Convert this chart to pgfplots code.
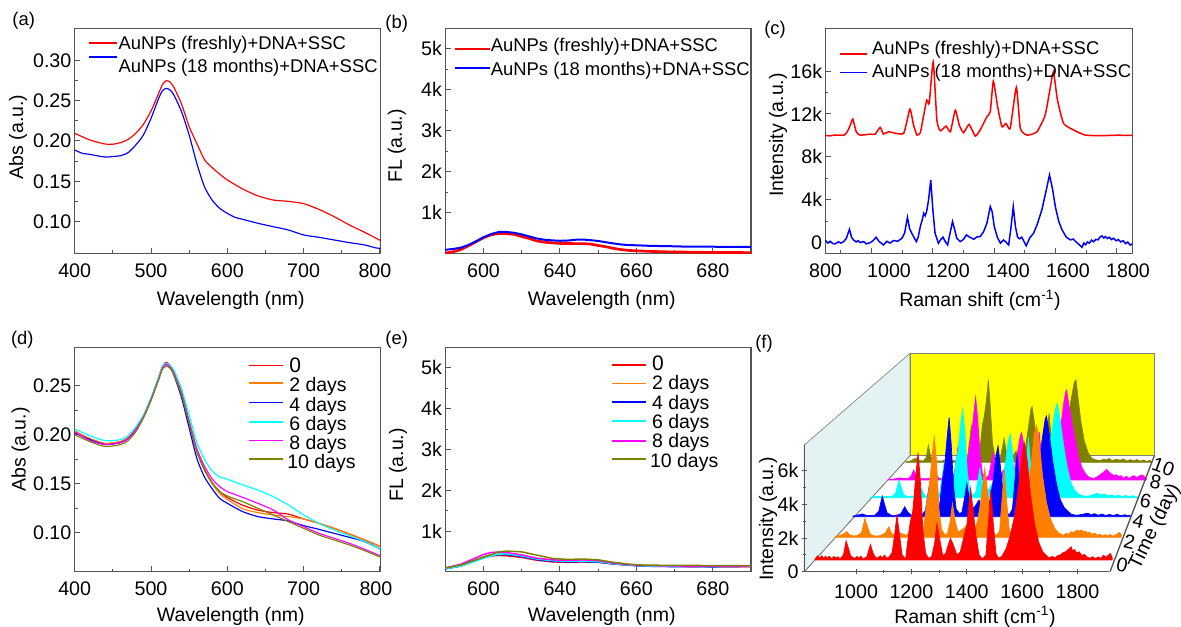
\documentclass[border=0pt]{standalone}
\usepackage{fontspec}
\setmainfont{Liberation Sans}
\usepackage{pgfplots}
\pgfplotsset{compat=1.18}
\definecolor{frame}{gray}{0.33}
\definecolor{myorange}{RGB}{255,128,0}
\definecolor{myolive}{RGB}{128,128,0}
\definecolor{mycyan}{RGB}{0,255,255}
\definecolor{mymagenta}{RGB}{255,0,255}
\definecolor{myyellow}{RGB}{255,255,0}
\definecolor{wall}{RGB}{227,243,243}
\newcommand\tk{\fontsize{11.8}{13}\selectfont}
\newcommand\lab{\fontsize{11.7}{13}\selectfont}
\newcommand\lega{\fontsize{11.05}{13}\selectfont}
\newcommand\legb{\fontsize{11.7}{13}\selectfont}
\newcommand\legz{\fontsize{12.6}{13}\selectfont}
\pgfplotsset{
 panel/.style n args={4}{at={({#1*0.6pt},{(627-#2)*0.6pt})},anchor=south west,width={#3*0.6pt},height={#4*0.6pt},scale only axis},
 common/.style={tick align=inside,tick pos=left,axis line style={color=frame,line width=0.8pt},
  major tick length=3.2pt,minor tick length=1.7pt,every tick/.style={frame,line width=0.6pt},
  tick label style={font=\tk},
  xticklabel style={inner sep=0pt,yshift=-6pt},yticklabel style={inner sep=0pt,xshift=-1.8pt},
  scaled ticks=false},
 xl/.style 2 args={every axis x label/.style={at={(axis description cs:#1,#2)},anchor=center,font=\lab}},
 yl/.style 2 args={every axis y label/.style={at={(axis description cs:#1,#2)},anchor=center,rotate=90,font=\lab}},
 leg/.style n args={4}{legend style={at={(axis description cs:#1,#2)},anchor=north west,draw=none,fill=none,inner sep=0pt,outer sep=0pt,
   font=#4,legend cell align=left,row sep=#3,
   nodes={inner sep=0pt,outer sep=0pt,text height=8pt,text depth=2.5pt}}},
 key/.style 2 args={legend image code/.code={\draw[##1,line width=1pt] (0pt,#2) -- (#1,#2);}},
 ln/.style={line width=0.7pt,no marks},
 ser/.style n args={4}{panel={#1}{#2}{#3}{#4},hide axis,xmin=813,xmax=1914,ymin=0,ymax=8000,clip=false},
}
\begin{document}
\begin{tikzpicture}
\path[use as bounding box] (0,0) rectangle (708.6pt,376.2pt);

% ---------- (a)
\begin{axis}[panel={74.7}{253.3}{306}{225},common,xmin=400,xmax=801,ymin=0.0608,ymax=0.3397,
 xtick={400,500,600,700,800},xticklabels={400,500,600,700,\kern-6pt 800},minor x tick num=1,
 ytick={0.10,0.15,0.20,0.25,0.30},yticklabels={0.10,0.15,0.20,0.25,0.30},minor y tick num=1,
 xlabel={Wavelength (nm)},ylabel={Abs (a.u.)},xl={0.51}{-0.2076},yl={-0.1853}{0.5169},
 leg={0.0435}{0.965}{1.6pt}{\lega},
 /tikz/every odd column/.append style={column sep=0.4pt}]
\addplot[ln,red,smooth,tension=0.4,key={17pt}{1.1pt}] coordinates {(400,.2095)(420,.2012)(440,.1962)(450,.196)(460,.198)(470,.202)(480,.2095)(490,.2206)(500,.2372)(510,.259)(515,.270)(520,.2748)(525,.273)(530,.2665)(540,.2458)(550,.2178)(560,.197)(570,.177)(580,.167)(590,.159)(600,.1517)(620,.1405)(640,.132)(660,.1268)(680,.1252)(700,.1223)(720,.1153)(740,.1062)(760,.0959)(780,.0868)(801,.0765)};
\addlegendentry{AuNPs (freshly)+DNA+SSC}
\addplot[ln,blue,smooth,tension=0.4,key={17pt}{6.3pt}] coordinates {(400,.1888)(410,.1847)(420,.1834)(440,.1801)(460,.1818)(470,.1855)(480,.195)(490,.2074)(500,.228)(510,.2528)(515,.2623)(520,.2652)(525,.2632)(530,.257)(540,.2363)(550,.2074)(560,.1723)(570,.1434)(580,.1268)(590,.1165)(600,.1103)(610,.1054)(620,.1029)(640,.098)(660,.0938)(680,.0897)(700,.0835)(720,.0806)(740,.0773)(760,.074)(780,.0711)(795,.0674)(801,.067)};
\addlegendentry{AuNPs (18 months)+DNA+SSC}
\end{axis}

% ---------- (b)
\begin{axis}[panel={445.3}{253.3}{305.7}{225},common,xmin=590,xmax=670,ymin=10,ymax=5500,
 xtick={600,620,640,660},xticklabels={600,640,660,680},minor x tick num=1,
 ytick={1000,2000,3000,4000,5000},yticklabels={1k,2k,3k,4k,5k},minor y tick num=1,
 xlabel={Wavelength (nm)},ylabel={FL (a.u.)},xl={0.5116}{-0.2076},yl={-0.159}{0.4769},
 leg={0.029}{0.9567}{3.9pt}{\lega},
 /tikz/every odd column/.append style={column sep=0pt}]
\addplot[no marks,red,line width=1.6pt,key={21pt}{-1.3pt}] coordinates {(590,15)(592,45)(594,100)(596,190)(598,290)(600,390)(602,460)(604,495)(606,490)(608,470)(610,420)(612,370)(614,310)(616,280)(618,265)(620,250)(622,250)(624,245)(626,245)(628,235)(630,200)(632,170)(634,130)(636,100)(638,80)(640,70)(644,55)(648,45)(652,40)(656,35)(660,30)(665,30)(670,25)};
\addlegendentry{AuNPs (freshly)+DNA+SSC}
\addplot[no marks,blue,line width=1.2pt,key={21pt}{1.5pt}] coordinates {(590,95)(592,115)(594,145)(596,210)(598,300)(600,400)(602,480)(604,530)(606,530)(608,510)(610,470)(612,420)(614,370)(616,340)(618,325)(620,315)(622,320)(624,340)(626,345)(628,330)(630,310)(632,280)(634,250)(636,225)(638,210)(640,205)(644,190)(648,185)(652,175)(656,170)(660,170)(665,165)(670,165)};
\addlegendentry{AuNPs (18 months)+DNA+SSC}
\end{axis}

% ---------- (c)
\begin{axis}[panel={825.5}{253.3}{306.8}{225},common,xmin=800,xmax=1800,ymin=-1000,ymax=20000,
 xtick={950,1150,1350,1550,1750},xticklabels={},minor xtick={850,1050,1250,1450,1650},
 extra x ticks={800,1007,1199,1395,1590,1786},extra x tick labels={800,1000,1200,1400,1600,1800},
 extra x tick style={major tick length=0pt},
 ytick={0,4000,8000,12000,16000},yticklabels={0,4k,8k,12k,16k},minor y tick num=1,
 xlabel={Raman shift (cm\textsuperscript{-1})},ylabel={Intensity (a.u.)},xl={0.5036}{-0.2076},yl={-0.1548}{0.5258},
 leg={0.0455}{0.9442}{3.7pt}{\lega},
 /tikz/every odd column/.append style={column sep=2.6pt}]
\addplot[ln,red,line width=0.9pt,smooth,tension=0.3,key={16pt}{-2.5pt}] coordinates {(800,10000)(815,9960)(830,10040)(860,10020)(870,10300)(880,10900)(889,11525)(900,10340)(913,10030)(946,10120)(962,10120)(978,10750)(989,10120)(1005,10340)(1054,10180)(1075,12460)(1087,10960)(1098,10030)(1109,10250)(1117,11430)(1130,13300)(1138,13000)(1151,16870)(1163,11430)(1174,10430)(1193,10870)(1207,10340)(1223,12360)(1236,10960)(1250,10250)(1268,11030)(1288,9940)(1304,10500)(1326,11740)(1337,12210)(1347,15070)(1361,12680)(1375,10810)(1388,11120)(1402,10650)(1422,14480)(1435,10650)(1457,10030)(1489,10340)(1516,11900)(1533,14540)(1543,15940)(1556,13300)(1576,11120)(1609,10500)(1647,10030)(1700,9980)(1750,10020)(1800,10000)};
\addlegendentry{AuNPs (freshly)+DNA+SSC}
\addplot[ln,blue,line width=0.9pt,key={16pt}{0.5pt}] coordinates {(800,190)(808,-50)(815,120)(824,-100)(832,-120)(842,80)(850,-60)(859,90)(868,400)(878,1240)(885,500)(891,250)(900,60)(906,180)(913,0)(924,90)(933,-120)(946,0)(955,180)(965,500)(974,120)(982,-60)(989,-220)(1000,120)(1010,-50)(1022,190)(1035,120)(1049,400)(1058,900)(1067,2360)(1074,1300)(1081,870)(1096,90)(1102,500)(1109,1500)(1115,2100)(1120,2740)(1125,2500)(1130,2980)(1136,4000)(1143,5840)(1150,3000)(1157,870)(1168,-60)(1176,300)(1183,500)(1190,100)(1198,-220)(1206,900)(1214,1960)(1221,1200)(1228,400)(1239,90)(1250,300)(1259,710)(1270,500)(1283,310)(1293,520)(1304,560)(1315,1000)(1326,1800)(1337,3360)(1343,2900)(1350,1500)(1360,500)(1370,-60)(1380,250)(1388,50)(1397,-220)(1404,1300)(1412,3360)(1419,1500)(1426,500)(1433,350)(1440,500)(1447,100)(1454,-310)(1466,450)(1478,870)(1490,1700)(1505,3040)(1518,4700)(1530,6310)(1540,5000)(1549,3360)(1560,2000)(1571,1180)(1585,500)(1598,250)(1607,330)(1615,100)(1625,-150)(1636,-440)(1642,-50)(1648,-200)(1654,60)(1660,-60)(1667,230)(1674,80)(1681,300)(1688,250)(1695,520)(1701,620)(1707,420)(1712,560)(1719,380)(1725,500)(1732,280)(1739,400)(1747,170)(1755,280)(1762,60)(1770,170)(1778,-100)(1785,50)(1793,-240)(1800,-120)};
\addlegendentry{AuNPs (18 months)+DNA+SSC}
\end{axis}

% ---------- (d)
\begin{axis}[panel={74.7}{571.7}{306}{224},common,xmin=400,xmax=801,ymin=0.0601,ymax=0.289,
 xtick={400,500,600,700,800},xticklabels={400,500,600,700,\kern-4.8pt 800},minor x tick num=1,
 ytick={0.10,0.15,0.20,0.25},yticklabels={0.10,0.15,0.20,0.25},minor y tick num=1,
 xlabel={Wavelength (nm)},ylabel={Abs (a.u.)},xl={0.51}{-0.2009},yl={-0.1765}{0.5455},
 leg={0.5673}{0.948}{1pt}{\legb},
 /tikz/every odd column/.append style={column sep=3.2pt}]
\addplot[ln,red,smooth,tension=0.4,key={20.4pt}{1.5pt}] coordinates {(400,.203)(420,.196)(440,.191)(460,.193)(470,.197)(480,.206)(490,.219)(500,.237)(510,.258)(515,.270)(520,.274)(525,.271)(530,.263)(540,.244)(550,.212)(560,.183)(570,.165)(580,.151)(590,.142)(600,.136)(620,.128)(640,.123)(660,.1205)(680,.119)(700,.114)(720,.1095)(740,.1044)(760,.0986)(780,.0925)(801,.0857)};
\addlegendentry{\legz 0}
\addplot[ln,myorange,smooth,tension=0.4,key={20.4pt}{2.5pt}] coordinates {(400,.204)(420,.196)(440,.191)(460,.193)(470,.197)(480,.206)(490,.219)(500,.237)(510,.258)(515,.269)(520,.272)(525,.269)(530,.262)(540,.242)(550,.212)(560,.183)(570,.164)(580,.150)(590,.140)(600,.134)(620,.1245)(640,.1205)(660,.118)(680,.1164)(700,.114)(720,.1095)(740,.1044)(760,.0986)(780,.0925)(801,.0855)};
\addlegendentry{2 days}
\addplot[ln,blue,smooth,tension=0.4,key={20.4pt}{2.3pt}] coordinates {(400,.202)(420,.195)(440,.190)(460,.192)(470,.196)(480,.205)(490,.218)(500,.236)(510,.258)(515,.269)(520,.273)(525,.270)(530,.261)(540,.238)(550,.207)(560,.176)(570,.157)(580,.145)(590,.135)(600,.130)(620,.1215)(640,.1164)(660,.114)(680,.112)(700,.1072)(720,.1034)(740,.0993)(760,.0952)(780,.0908)(801,.083)};
\addlegendentry{4 days}
\addplot[ln,mycyan,smooth,tension=0.4,key={20.4pt}{2.3pt}] coordinates {(400,.206)(420,.199)(440,.194)(460,.195)(470,.199)(480,.208)(490,.220)(500,.238)(510,.259)(515,.270)(520,.273)(525,.271)(530,.266)(540,.247)(550,.220)(560,.192)(570,.175)(580,.163)(590,.157)(600,.1546)(620,.1488)(640,.1436)(660,.1368)(680,.1283)(700,.1181)(720,.1095)(740,.1027)(760,.0969)(780,.0908)(801,.083)};
\addlegendentry{6 days}
\addplot[ln,mymagenta,smooth,tension=0.4,key={20.4pt}{2.5pt}] coordinates {(400,.203)(420,.194)(440,.190)(460,.192)(470,.196)(480,.205)(490,.218)(500,.236)(510,.257)(515,.268)(520,.272)(525,.269)(530,.263)(540,.242)(550,.214)(560,.186)(570,.168)(580,.155)(590,.147)(600,.142)(620,.1361)(640,.13)(660,.1232)(680,.113)(700,.1061)(720,.0993)(740,.0942)(760,.0891)(780,.083)(801,.0761)};
\addlegendentry{8 days}
\addplot[ln,myolive,smooth,tension=0.4,key={20.4pt}{3.1pt}] coordinates {(400,.200)(420,.193)(440,.188)(460,.190)(470,.194)(480,.203)(490,.217)(500,.235)(510,.256)(515,.267)(520,.270)(525,.268)(530,.261)(540,.241)(550,.212)(560,.183)(570,.164)(580,.151)(590,.142)(600,.1375)(620,.1317)(640,.1249)(660,.1181)(680,.1113)(700,.1044)(720,.0976)(740,.0925)(760,.0874)(780,.0816)(801,.0748)};
\addlegendentry{\hspace*{-1.2pt}10 days}
\end{axis}

% ---------- (e)
\begin{axis}[panel={445.3}{571.7}{305.7}{224},common,xmin=590,xmax=670,ymin=10,ymax=5490,
 xtick={600,620,640,660},xticklabels={600,640,660,680},minor x tick num=1,
 ytick={1000,2000,3000,4000,5000},yticklabels={1k,2k,3k,4k,5k},minor y tick num=1,
 xlabel={Wavelength (nm)},ylabel={FL (a.u.)},xl={0.5116}{-0.2009},yl={-0.1547}{0.4763},
 leg={0.541}{0.959}{1.14pt}{\legb},
 /tikz/every odd column/.append style={column sep=3.2pt}]
\addplot[no marks,red,line width=0.9pt,key={20.6pt}{0.3pt}] coordinates {(590,90)(594,150)(598,290)(600,350)(602,395)(604,410)(606,400)(610,360)(614,290)(618,250)(622,240)(626,250)(630,240)(634,200)(638,175)(642,150)(650,140)(660,130)(670,135)};
\addlegendentry{\legz 0}
\addplot[no marks,myorange,line width=0.9pt,key={20.6pt}{0.9pt}] coordinates {(590,95)(594,160)(598,300)(600,370)(602,420)(604,440)(606,435)(610,385)(614,310)(618,270)(622,260)(626,270)(630,255)(634,210)(638,180)(642,155)(650,145)(660,140)(670,140)};
\addlegendentry{2 days}
\addplot[no marks,blue,line width=0.9pt,key={20.6pt}{1.5pt}] coordinates {(590,80)(594,150)(598,290)(600,355)(602,405)(604,430)(606,430)(610,380)(614,305)(618,265)(622,250)(626,255)(630,245)(634,200)(638,170)(642,145)(650,135)(660,130)(670,140)};
\addlegendentry{4 days}
\addplot[no marks,mycyan,line width=0.9pt,key={20.6pt}{1.5pt}] coordinates {(590,85)(594,145)(598,270)(600,340)(602,400)(604,440)(606,445)(610,395)(614,320)(618,280)(622,265)(626,270)(630,255)(634,205)(638,175)(642,150)(650,140)(660,135)(670,145)};
\addlegendentry{6 days}
\addplot[no marks,mymagenta,line width=0.9pt,key={20.6pt}{1.5pt}] coordinates {(590,100)(594,190)(598,350)(600,430)(602,480)(604,490)(606,480)(610,420)(614,340)(618,300)(622,285)(626,300)(630,280)(634,220)(638,185)(642,160)(650,150)(660,145)(670,150)};
\addlegendentry{8 days}
\addplot[no marks,myolive,line width=0.9pt,key={20.6pt}{2.1pt}] coordinates {(590,105)(594,170)(598,300)(600,370)(602,430)(604,495)(606,515)(610,495)(614,415)(618,335)(622,310)(626,320)(630,300)(634,240)(638,195)(642,170)(650,165)(660,160)(670,160)};
\addlegendentry{\hspace*{-1.2pt}10 days}
\end{axis}

% ---------- (f) walls
\begin{scope}[x=0.6pt,y=0.6pt]
\fill[wall,draw=gray,line width=0.4pt] (804.3,55.3) -- (804.3,182) -- (910,273.7) -- (910,171.3) -- cycle;
\fill[myyellow,draw=gray,line width=0.4pt] (910,171.3) rectangle (1154.3,273.7);
\draw[gray,line width=0.4pt] (804.3,55.3) -- (910,171.3);
\end{scope}

\begin{axis}[ser={905.7}{462.3}{246.6}{108.8}]
\addplot[fill=myolive,draw=myolive,line width=0.4pt] coordinates {(813,30)(835,100)(850,250)(865,300)(875,120)(890,100)(905,350)(914,1270)(923,500)(935,120)(955,100)(975,100)(995,200)(1005,500)(1015,150)(1040,100)(1060,120)(1080,100)(1090,500)(1100,1800)(1106,2700)(1115,1500)(1125,400)(1137,200)(1145,1000)(1155,2700)(1164,3400)(1173,4500)(1182,6050)(1190,4200)(1200,1500)(1210,400)(1225,150)(1235,300)(1244,1000)(1252,1760)(1262,800)(1275,300)(1290,400)(1305,800)(1320,500)(1335,450)(1347,1000)(1360,2500)(1372,3900)(1377,4090)(1387,3000)(1398,1300)(1410,300)(1423,100)(1435,400)(1444,2000)(1453,3600)(1462,1800)(1473,400)(1487,120)(1500,400)(1515,1100)(1530,2500)(1545,4000)(1558,5200)(1566,5900)(1573,6050)(1582,4800)(1595,3000)(1610,1600)(1625,800)(1640,350)(1655,200)(1680,120)(1695,220)(1710,180)(1722,280)(1735,120)(1752,230)(1770,150)(1785,240)(1800,90)(1815,190)(1830,100)(1845,200)(1860,80)(1875,170)(1890,60)(1902,150)(1912,50)} \closedcycle;
\end{axis}
\begin{axis}[ser={888}{480}{258.7}{114.4}]
\addplot[fill=mymagenta,draw=mymagenta,line width=0.4pt] coordinates {(813,30)(840,70)(860,150)(880,100)(900,120)(912,300)(922,700)(932,350)(945,100)(965,90)(985,100)(1005,150)(1018,350)(1030,120)(1050,70)(1070,100)(1085,100)(1095,500)(1104,1400)(1111,2330)(1120,1200)(1130,300)(1142,150)(1150,1000)(1160,2500)(1168,3000)(1177,4500)(1186,5780)(1195,4200)(1205,1700)(1215,450)(1230,150)(1241,300)(1250,1000)(1260,1910)(1270,900)(1282,350)(1295,450)(1310,800)(1325,500)(1340,450)(1352,900)(1365,2000)(1375,3000)(1381,3310)(1392,2400)(1403,1100)(1415,300)(1428,100)(1440,400)(1448,2000)(1456,3380)(1465,1800)(1476,400)(1490,150)(1505,400)(1520,1100)(1535,2400)(1550,4000)(1562,5500)(1570,6200)(1573,6290)(1585,5000)(1598,3800)(1610,2800)(1625,1500)(1640,800)(1655,400)(1670,180)(1690,100)(1710,300)(1720,420)(1730,550)(1743,745)(1750,600)(1758,500)(1766,400)(1775,300)(1785,370)(1795,250)(1805,300)(1815,120)(1828,260)(1840,100)(1850,250)(1860,300)(1870,180)(1880,250)(1890,350)(1900,300)(1912,120)} \closedcycle;
\end{axis}
\begin{axis}[ser={870.7}{497.7}{268.3}{118.4}]
\addplot[fill=mycyan,draw=mycyan,line width=0.4pt] coordinates {(813,30)(840,100)(860,60)(880,70)(900,80)(915,300)(929,1190)(938,700)(948,200)(965,80)(985,90)(1005,150)(1022,630)(1032,200)(1045,70)(1065,100)(1085,90)(1097,400)(1107,1500)(1115,2430)(1124,1300)(1134,300)(1146,150)(1153,1000)(1163,2500)(1172,3200)(1181,4800)(1190,5990)(1199,4500)(1209,1800)(1219,500)(1232,200)(1243,300)(1252,1100)(1261,1980)(1271,1000)(1282,400)(1295,500)(1310,900)(1325,600)(1340,500)(1352,1000)(1365,2200)(1377,3800)(1385,4300)(1395,3000)(1405,1400)(1417,300)(1428,100)(1442,400)(1451,2200)(1460,4080)(1469,2200)(1479,500)(1491,150)(1505,400)(1520,1000)(1535,2400)(1550,3800)(1565,5400)(1574,6200)(1579,6370)(1590,5300)(1605,3500)(1620,2000)(1635,1000)(1650,500)(1665,250)(1685,120)(1705,100)(1725,200)(1740,290)(1760,200)(1772,260)(1785,120)(1800,190)(1815,100)(1830,170)(1845,70)(1860,150)(1875,60)(1888,140)(1900,60)(1912,40)} \closedcycle;
\end{axis}
\begin{axis}[ser={853}{516.7}{277.7}{122.4}]
\addplot[fill=blue,draw=blue,line width=0.4pt] coordinates {(813,40)(835,120)(850,180)(865,90)(885,70)(900,100)(915,350)(929,1350)(938,800)(948,250)(965,90)(985,80)(1003,200)(1018,650)(1030,300)(1045,80)(1065,150)(1085,90)(1100,400)(1110,1500)(1117,2180)(1127,1300)(1137,300)(1150,150)(1158,1000)(1168,2500)(1176,3300)(1185,5000)(1194,6490)(1202,4800)(1212,1900)(1222,500)(1235,200)(1245,300)(1255,1200)(1264,2180)(1275,1100)(1285,500)(1298,700)(1312,1090)(1325,700)(1340,500)(1355,1000)(1368,2300)(1380,4000)(1388,4620)(1398,3200)(1408,1500)(1420,350)(1432,120)(1445,500)(1455,2400)(1464,4100)(1473,2300)(1483,500)(1495,150)(1505,300)(1520,900)(1535,2000)(1550,3400)(1565,5300)(1575,6400)(1580,6580)(1590,5500)(1605,3600)(1620,2100)(1635,1100)(1650,600)(1665,350)(1680,150)(1700,90)(1720,150)(1745,230)(1757,120)(1770,200)(1785,90)(1800,170)(1815,80)(1830,150)(1845,70)(1860,160)(1875,60)(1890,130)(1900,70)(1912,100)} \closedcycle;
\end{axis}
\begin{axis}[ser={835}{537.3}{286.7}{126.4}]
\addplot[fill=myorange,draw=myorange,line width=0.4pt] coordinates {(813,40)(830,120)(845,200)(858,360)(870,150)(885,80)(900,120)(915,300)(928,1200)(937,700)(948,200)(965,80)(985,100)(1005,250)(1020,675)(1030,250)(1045,70)(1060,280)(1075,200)(1090,120)(1103,600)(1116,2260)(1126,1200)(1135,300)(1148,100)(1155,800)(1165,2200)(1175,3200)(1185,5000)(1194,6370)(1203,4800)(1212,1800)(1222,500)(1235,150)(1245,250)(1255,1000)(1264,2150)(1275,1000)(1285,350)(1298,450)(1314,675)(1330,500)(1345,400)(1360,1000)(1372,2200)(1388,4370)(1398,3000)(1408,1500)(1420,300)(1432,100)(1445,400)(1454,2300)(1463,4260)(1472,2300)(1482,500)(1492,150)(1505,300)(1520,800)(1535,1600)(1550,2700)(1565,4400)(1578,6500)(1587,7070)(1597,6100)(1610,3900)(1625,2200)(1640,1200)(1655,600)(1670,300)(1690,120)(1700,250)(1710,200)(1720,350)(1730,300)(1740,450)(1750,400)(1760,460)(1768,320)(1775,400)(1783,260)(1790,330)(1800,180)(1810,260)(1820,130)(1830,200)(1840,90)(1850,170)(1860,90)(1870,180)(1880,80)(1890,140)(1898,230)(1905,300)(1912,200)} \closedcycle;
\end{axis}
\begin{axis}[ser={815}{560}{297.7}{131.2}]
\addplot[fill=red,draw=red,line width=0.4pt] coordinates {(813,60)(822,250)(830,120)(838,260)(845,100)(852,240)(858,120)(866,230)(875,60)(882,220)(890,120)(898,200)(905,60)(918,300)(928,1180)(935,800)(945,250)(960,80)(968,220)(975,120)(983,240)(990,60)(1005,200)(1018,955)(1028,400)(1040,100)(1055,250)(1062,130)(1070,300)(1078,110)(1085,150)(1098,450)(1107,1500)(1116,2740)(1126,1500)(1135,300)(1148,60)(1155,1000)(1165,2300)(1175,3000)(1185,5000)(1194,6545)(1202,5000)(1212,1800)(1222,400)(1235,80)(1245,250)(1255,1000)(1264,2235)(1275,1200)(1285,300)(1295,350)(1305,900)(1314,1320)(1325,900)(1338,300)(1350,500)(1362,1300)(1375,2200)(1388,4370)(1398,3000)(1408,1500)(1420,300)(1432,60)(1445,300)(1454,2300)(1463,4270)(1472,2300)(1482,400)(1492,100)(1505,250)(1520,700)(1535,1500)(1550,2600)(1565,4300)(1578,6500)(1587,7150)(1597,6200)(1610,4000)(1625,2200)(1640,1100)(1655,500)(1670,250)(1680,130)(1690,220)(1700,130)(1710,260)(1720,300)(1730,450)(1740,500)(1750,650)(1760,810)(1766,560)(1772,640)(1781,430)(1790,500)(1800,280)(1810,340)(1820,170)(1830,120)(1840,200)(1850,80)(1860,190)(1870,100)(1880,300)(1888,170)(1895,250)(1905,400)(1912,150)} \closedcycle;
\end{axis}

% ---------- (f) axes
\begin{axis}[panel={804.3}{571.7}{304.7}{126.7},tick align=inside,
 axis x line=bottom,axis y line=left,axis line style={-,color=frame,line width=0.8pt},
 major tick length=3pt,minor tick length=1.7pt,every tick/.style={frame,line width=0.6pt},
 tick label style={font=\tk},
 xticklabel style={inner sep=0pt,yshift=-6pt},yticklabel style={inner sep=0pt,xshift=-1.8pt},
 xmin=813,xmax=1914,ymin=0,ymax=7530,
 xtick={1000,1200,1400,1600,1800},xticklabels={1000,1200,1400,1600,1800},minor x tick num=1,
 ytick={0,2000,4000,6000},yticklabels={0,2k,4k,6k},minor y tick num=1,
 xlabel={Raman shift (cm\textsuperscript{-1})},ylabel={Intensity (a.u.)},xl={0.5602}{-0.3552},yl={-0.1191}{0.4159}]
\end{axis}

\begin{scope}[x=0.6pt,y=0.6pt,every node/.style={inner sep=0pt}]
\draw[frame,line width=0.8pt] (1110,55.3) -- (1154.3,171.3);
\node[font=\tk,rotate=-12] at (1122,62) {0};
\node[font=\tk,rotate=-12] at (1129.3,85.3) {2};
\node[font=\tk,rotate=-12] at (1138.3,106) {4};
\node[font=\tk,rotate=-12] at (1145.7,126) {6};
\node[font=\tk,rotate=-12] at (1155.7,145.3) {8};
\node[font=\tk,rotate=-20] at (1163.3,160.3) {10};
\node[font=\lab,rotate=64] at (1155,100.3) {Time (day)};
\node[font=\lega] at (23.7,606.3) {(a)};
\node[font=\lega] at (396.7,603.7) {(b)};
\node[font=\lega] at (775,597.7) {(c)};
\node[font=\lega] at (22.3,287) {(d)};
\node[font=\lega] at (396.7,287) {(e)};
\node[font=\lega] at (764,283) {(f)};
\end{scope}
\end{tikzpicture}
\end{document}
